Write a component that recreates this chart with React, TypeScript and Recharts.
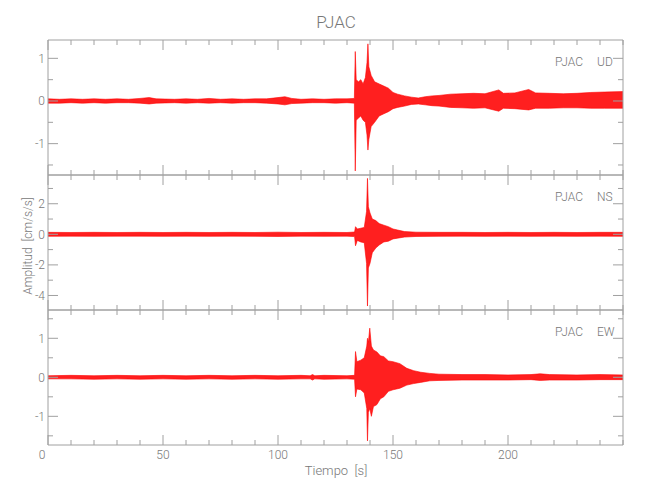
import React from 'react'
import { ComposedChart, Area, XAxis, YAxis } from 'recharts'

// seismogram envelopes (time in s, upper / lower amplitude in cm/s/s)
const udTime = [0, 5, 10, 15, 20, 25, 30, 35, 40, 44, 47, 55, 60, 65, 70, 75, 80, 85, 90, 95, 100, 103, 106, 110, 115, 120, 125, 130, 133.2, 133.6, 134, 135, 136, 137, 138, 138.7, 139.1, 139.5, 140.5, 142, 144, 146, 148, 150, 152, 155, 158, 161, 164, 167, 170, 175, 180, 185, 190, 196, 198, 203, 209, 212, 218, 224, 230, 236, 242, 250]
const udHigh = [0.05, 0.04, 0.05, 0.04, 0.05, 0.04, 0.05, 0.04, 0.06, 0.08, 0.05, 0.04, 0.05, 0.04, 0.06, 0.04, 0.05, 0.04, 0.05, 0.05, 0.08, 0.1, 0.06, 0.04, 0.05, 0.04, 0.05, 0.05, 0.06, 1.16, 0.5, 0.45, 0.5, 0.4, 0.55, 0.9, 1.34, 0.8, 0.6, 0.45, 0.4, 0.35, 0.3, 0.2, 0.16, 0.12, 0.09, 0.07, 0.1, 0.12, 0.13, 0.16, 0.17, 0.18, 0.17, 0.26, 0.18, 0.19, 0.27, 0.19, 0.18, 0.17, 0.18, 0.2, 0.21, 0.22]
const udLow = [-0.05, -0.05, -0.04, -0.05, -0.04, -0.05, -0.04, -0.04, -0.05, -0.07, -0.05, -0.04, -0.05, -0.04, -0.05, -0.04, -0.05, -0.04, -0.04, -0.05, -0.07, -0.09, -0.06, -0.05, -0.04, -0.04, -0.05, -0.04, -0.05, -1.64, -0.45, -0.4, -0.35, -0.45, -0.5, -0.8, -1.15, -0.9, -0.6, -0.5, -0.35, -0.3, -0.25, -0.18, -0.15, -0.12, -0.08, -0.07, -0.09, -0.11, -0.12, -0.15, -0.16, -0.17, -0.16, -0.24, -0.17, -0.18, -0.21, -0.17, -0.17, -0.16, -0.16, -0.17, -0.17, -0.17]

const nsTime = [0, 10, 20, 30, 40, 50, 60, 70, 80, 90, 100, 110, 120, 130, 133.3, 133.7, 134.5, 136, 137.5, 138.5, 138.9, 139.3, 140, 141, 142.5, 144, 146, 148, 150, 152, 155, 160, 170, 180, 190, 200, 210, 220, 230, 240, 250]
const nsHigh = [0.13, 0.12, 0.13, 0.12, 0.13, 0.12, 0.13, 0.12, 0.13, 0.12, 0.14, 0.12, 0.13, 0.12, 0.15, 0.5, 0.35, 0.4, 0.45, 1.5, 3.66, 1.8, 1.4, 1.0, 0.9, 0.7, 0.6, 0.5, 0.35, 0.28, 0.18, 0.14, 0.13, 0.13, 0.12, 0.13, 0.12, 0.13, 0.12, 0.13, 0.13]
const nsLow = [-0.13, -0.12, -0.13, -0.12, -0.12, -0.13, -0.12, -0.13, -0.12, -0.13, -0.14, -0.12, -0.13, -0.12, -0.15, -0.75, -0.4, -0.5, -0.55, -1.9, -4.69, -2.2, -1.9, -1.2, -0.9, -0.7, -0.5, -0.45, -0.3, -0.25, -0.18, -0.14, -0.13, -0.12, -0.13, -0.12, -0.13, -0.12, -0.13, -0.12, -0.13]

const ewTime = [0, 10, 20, 30, 40, 50, 60, 70, 80, 90, 100, 110, 114, 115, 116, 120, 130, 133.3, 133.7, 134.3, 136, 137.5, 138.6, 138.9, 139.3, 139.9, 140.6, 141.5, 143, 144.5, 146, 148, 150, 153, 156, 159, 162, 166, 170, 180, 190, 200, 210, 214, 218, 230, 240, 250]
const ewHigh = [0.04, 0.05, 0.04, 0.05, 0.04, 0.05, 0.04, 0.05, 0.04, 0.05, 0.04, 0.05, 0.04, 0.07, 0.04, 0.05, 0.04, 0.05, 0.66, 0.4, 0.44, 0.5, 0.8, 1.0, 0.9, 1.26, 0.8, 0.7, 0.65, 0.55, 0.53, 0.42, 0.4, 0.35, 0.23, 0.17, 0.13, 0.1, 0.08, 0.07, 0.07, 0.06, 0.07, 0.09, 0.07, 0.06, 0.07, 0.06]
const ewLow = [-0.04, -0.04, -0.05, -0.04, -0.05, -0.04, -0.05, -0.04, -0.05, -0.04, -0.05, -0.04, -0.04, -0.07, -0.04, -0.05, -0.04, -0.05, -0.5, -0.3, -0.32, -0.4, -0.8, -1.63, -0.9, -0.8, -1.0, -0.75, -0.7, -0.55, -0.5, -0.36, -0.32, -0.28, -0.2, -0.16, -0.13, -0.09, -0.08, -0.07, -0.07, -0.07, -0.06, -0.08, -0.07, -0.07, -0.06, -0.06]

const timeTicks = [0, 10, 20, 30, 40, 50, 60, 70, 80, 90, 100, 110, 120, 130, 140, 150, 160, 170, 180, 190, 200, 210, 220, 230, 240, 250]
const timeLabels = [0, 50, 100, 150, 200]

const udTicks = [-1.5, -1, -0.5, 0, 0.5, 1]
const udLabels = [-1, 0, 1]
const nsTicks = [-4, -3, -2, -1, 0, 1, 2, 3]
const nsLabels = [-4, -2, 0, 2]
const ewTicks = [-1.5, -1, -0.5, 0, 0.5, 1, 1.5]
const ewLabels = [-1, 0, 1]

const station = 'PJAC'

const RED = '#ff0000'
const FRAME = '#a0a0a0'
const TEXT = '#777777'
const FONT = 'Roboto, "Liberation Sans", sans-serif'

const toRows = (t: number[], hi: number[], lo: number[]) =>
  t.map((v, i) => ({ t: v, band: [lo[i], hi[i]] }))

const yTick = (side: 'left' | 'right', labels: number[]) => (props: any) => {
  const { x, y, payload } = props
  const major = labels.includes(payload.value)
  const len = major ? 10 : 5
  const dir = side === 'left' ? 1 : -1
  return (
    <g>
      <line x1={x} y1={y} x2={x + dir * len} y2={y} stroke={FRAME} strokeWidth={1} />
      {side === 'left' && major && (
        <text x={x - 3} y={y} dy={4.5} textAnchor="end" fontSize={12} fontWeight={300} fill={TEXT} fontFamily={FONT}>
          {payload.value}
        </text>
      )}
    </g>
  )
}

const xTick = (side: 'top' | 'bottom', showLabels: boolean) => (props: any) => {
  const { x, y, payload } = props
  const major = timeLabels.includes(payload.value)
  const len = major ? 10 : 5
  const dir = side === 'bottom' ? -1 : 1
  return (
    <g>
      <line x1={x} y1={y} x2={x} y2={y + dir * len} stroke={FRAME} strokeWidth={1} />
      {showLabels && major && (
        <text x={payload.value === 0 ? x - 6 : x} y={y} dy={14} textAnchor="middle" fontSize={12} fontWeight={300} fill={TEXT} fontFamily={FONT}>
          {payload.value}
        </text>
      )}
    </g>
  )
}

type PanelProps = {
  rows: { t: number; band: number[] }[]
  domain: [number, number]
  ticks: number[]
  labels: number[]
  top: number
  bottom: number
  showX: boolean
}

// axes get 1px of room (recharts skips zero-sized axes), margins are shifted to keep the frame at 48..623
const Panel = ({ rows, domain, ticks, labels, top, bottom, showX }: PanelProps) => (
  <div style={{ position: 'absolute', left: 0, top: 0 }}>
    <ComposedChart width={650} height={500} data={rows} margin={{ top: top - 1, bottom: 500 - bottom - 1, left: 47, right: 26 }}>
      <XAxis xAxisId="b" dataKey="t" type="number" domain={[0, 250]} ticks={timeTicks} orientation="bottom"
        height={1} tickSize={0} tickMargin={0} interval={0} allowDataOverflow
        axisLine={{ stroke: FRAME }} tickLine={false} tick={xTick('bottom', showX)} />
      <XAxis xAxisId="t" dataKey="t" type="number" domain={[0, 250]} ticks={timeTicks} orientation="top"
        height={1} tickSize={0} tickMargin={0} interval={0} allowDataOverflow
        axisLine={{ stroke: FRAME }} tickLine={false} tick={xTick('top', false)} />
      <YAxis yAxisId="l" type="number" domain={domain} ticks={ticks} orientation="left" width={1}
        tickSize={0} tickMargin={0} interval={0} allowDataOverflow
        axisLine={{ stroke: FRAME }} tickLine={false} tick={yTick('left', labels)} />
      <YAxis yAxisId="r" type="number" domain={domain} ticks={ticks} orientation="right" width={1}
        tickSize={0} tickMargin={0} interval={0} allowDataOverflow
        axisLine={{ stroke: FRAME }} tickLine={false} tick={yTick('right', labels)} />
      <Area xAxisId="b" yAxisId="l" dataKey="band" type="linear" stroke={RED} strokeWidth={0.6}
        fill={RED} fillOpacity={0.88} dot={false} activeDot={false} isAnimationActive={false} />
    </ComposedChart>
  </div>
)

export default function App() {
  return (
    <div style={{ position: 'absolute', left: 0, top: 0, width: 650, height: 500, background: '#fff' }}>
      <Panel rows={toRows(udTime, udHigh, udLow)} domain={[-1.735, 1.43]} ticks={udTicks} labels={udLabels} top={40} bottom={175} showX={false} />
      <Panel rows={toRows(nsTime, nsHigh, nsLow)} domain={[-4.95, 3.88]} ticks={nsTicks} labels={nsLabels} top={175} bottom={310} showX={false} />
      <Panel rows={toRows(ewTime, ewHigh, ewLow)} domain={[-1.735, 1.725]} ticks={ewTicks} labels={ewLabels} top={310} bottom={445} showX={true} />
      <svg width={650} height={500} style={{ position: 'absolute', left: 0, top: 0, pointerEvents: 'none' }}
        fontFamily={FONT} fontWeight={300} fill={TEXT}>
        <text x={336} y={28} textAnchor="middle" fontSize={17}>{station}</text>
        <text x={336} y={475} textAnchor="middle" fontSize={13}>{'Tiempo\u00a0\u00a0[s]'}</text>
        <text transform="translate(32,246) rotate(-90)" textAnchor="middle" fontSize={12}>{'Amplitud\u00a0\u00a0[cm/s/s]'}</text>
        <text x={583} y={66} textAnchor="end" fontSize={12}>{station}</text>
        <text x={597} y={66} fontSize={12}>UD</text>
        <text x={583} y={201} textAnchor="end" fontSize={12}>{station}</text>
        <text x={597} y={201} fontSize={12}>NS</text>
        <text x={583} y={336} textAnchor="end" fontSize={12}>{station}</text>
        <text x={597} y={336} fontSize={12}>EW</text>
      </svg>
    </div>
  )
}
